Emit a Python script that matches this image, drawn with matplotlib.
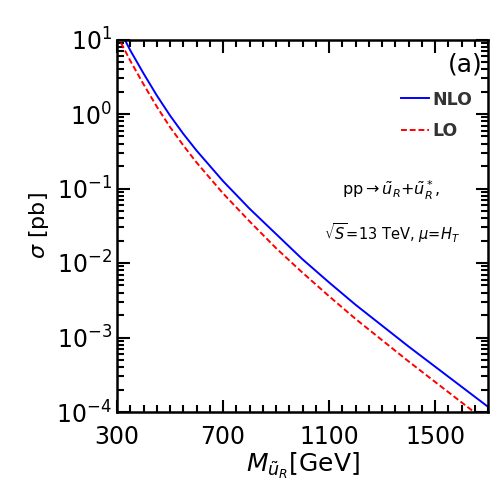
import numpy as np
import matplotlib
matplotlib.use('Agg')
import matplotlib.pyplot as plt
from matplotlib.ticker import MultipleLocator, LogLocator, NullFormatter, FixedLocator

# squark mass [GeV] and log10 of cross section [pb]
mass = [300, 350, 400, 450, 500, 550, 600, 700, 800, 900, 1000, 1100, 1200, 1300, 1400, 1500, 1600, 1700]
log_nlo = [1.20, 0.855, 0.545, 0.25, -0.02, -0.265, -0.49, -0.90, -1.27, -1.61, -1.95, -2.26, -2.56, -2.84, -3.12, -3.39, -3.66, -3.93]
log_lo = [1.06, 0.715, 0.40, 0.10, -0.175, -0.42, -0.65, -1.065, -1.44, -1.80, -2.13, -2.445, -2.75, -3.035, -3.32, -3.595, -3.87, -4.145]

x_major = [300, 700, 1100, 1500]

sig_nlo = 10 ** np.array(log_nlo)
sig_lo = 10 ** np.array(log_lo)

fig = plt.figure(figsize=(5, 5), dpi=100)
ax = fig.add_axes([0.234, 0.176, 0.742, 0.745])

ax.plot(mass, sig_nlo, color='blue', lw=1.4, label='NLO')
ax.plot(mass, sig_lo, color='red', lw=1.4, ls=(0, (3, 1.5)), label='LO')

ax.set_yscale('log')
ax.set_xlim(300, 1700)
ax.set_ylim(1e-4, 1e1)

ax.xaxis.set_major_locator(FixedLocator(x_major))
ax.xaxis.set_minor_locator(MultipleLocator(50))
ax.yaxis.set_major_locator(LogLocator(base=10, numticks=10))
ax.yaxis.set_minor_locator(LogLocator(base=10, subs=np.arange(2, 10), numticks=20))
ax.yaxis.set_minor_formatter(NullFormatter())

ax.tick_params(which='both', direction='in', top=True, right=True, width=1.5, labelsize=17)
ax.tick_params(which='major', length=9)
ax.tick_params(which='minor', length=5)
ax.tick_params(axis='x', pad=9)
for s in ax.spines.values():
    s.set_linewidth(1.8)

ax.set_xlabel(r'$M_{\tilde{u}_R}$[GeV]', fontsize=18, labelpad=2)
ax.set_ylabel(r'$\sigma$ [pb]', fontsize=16, labelpad=4)

ax.text(0.985, 0.965, '(a)', transform=ax.transAxes, ha='right', va='top', fontsize=18)

leg = ax.legend(loc='upper right', bbox_to_anchor=(1.0, 0.905), frameon=False,
                handlelength=1.6, handletextpad=0.2, labelspacing=0.8, fontsize=12.5)
for t in leg.get_texts():
    t.set_fontweight('bold')
    t.set_color('#333333')

ax.text(0.74, 0.595, r'pp$\rightarrow\tilde{u}_R$+$\tilde{u}^*_R$,', transform=ax.transAxes,
        ha='center', va='center', fontsize=11.5)
ax.text(0.74, 0.48, r'$\sqrt{S}$=13 TeV, $\mu$=$H_T$', transform=ax.transAxes,
        ha='center', va='center', fontsize=10.5)

fig.savefig('out.png', dpi=100)
